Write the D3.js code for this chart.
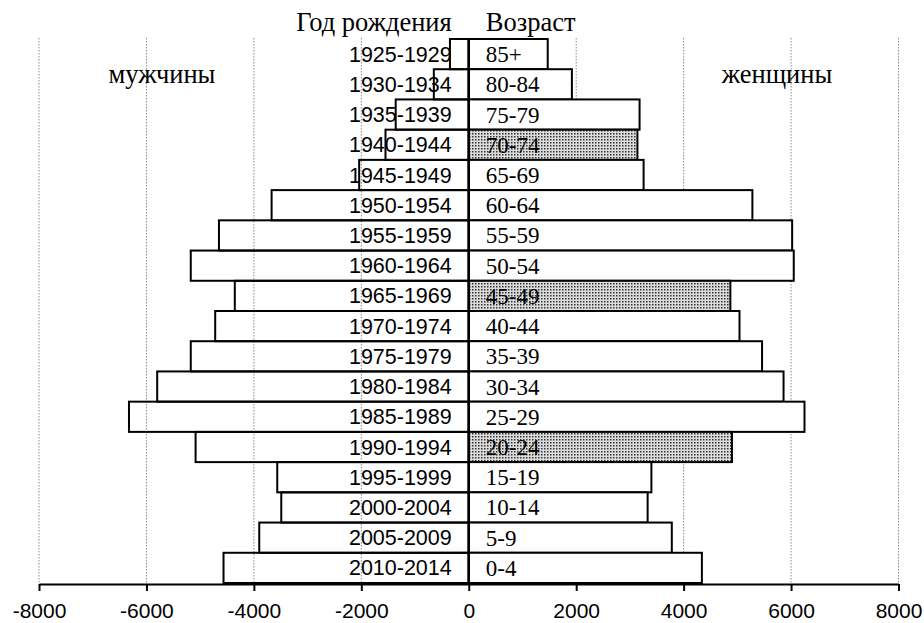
<!DOCTYPE html>
<html>
<head>
<meta charset="utf-8">
<script src="https://cdn.jsdelivr.net/npm/d3@7"></script>
<style>
  html, body { margin: 0; padding: 0; background: #fff; }
  svg { display: block; }
</style>
</head>
<body>
<svg id="chart" width="924" height="623"></svg>
<script>
// ---- data ----
const birthYears = ["1925-1929","1930-1934","1935-1939","1940-1944","1945-1949","1950-1954",
  "1955-1959","1960-1964","1965-1969","1970-1974","1975-1979","1980-1984","1985-1989",
  "1990-1994","1995-1999","2000-2004","2005-2009","2010-2014"];
const ages = ["85+","80-84","75-79","70-74","65-69","60-64","55-59","50-54","45-49",
  "40-44","35-39","30-34","25-29","20-24","15-19","10-14","5-9","0-4"];
const male = [-350,-650,-1360,-1550,-2040,-3670,-4650,-5175,-4355,-4720,-5175,-5800,
  -6325,-5085,-3565,-3490,-3900,-4565];
const female = [1470,1920,3180,3140,3255,5280,6020,6050,4870,5040,5460,5860,6250,4900,
  3400,3330,3780,4340];
const highlighted = ["70-74","45-49","20-24"];
const xTicks = [-8000,-6000,-4000,-2000,0,2000,4000,6000,8000];
const titleLeft = "Год рождения";
const titleRight = "Возраст";
const sideLeft = "мужчины";
const sideRight = "женщины";

// ---- layout ----
const svg = d3.select("#chart");
const x = d3.scaleLinear().domain([-8000, 8000]).range([39, 898.5]);
const y = d3.scaleBand().domain(ages).range([39, 583]).padding(0);
const serif = "'Liberation Serif','Times New Roman',serif";
const sans = "'Liberation Sans',Arial,sans-serif";

// pattern
const defs = svg.append("defs");
const pat = defs.append("pattern").attr("id","dots").attr("patternUnits","userSpaceOnUse")
  .attr("width",3).attr("height",3);
pat.append("rect").attr("width",3).attr("height",3).attr("fill","#dcdcdc");
pat.append("rect").attr("x",1).attr("y",1).attr("width",1.5).attr("height",1.5).attr("fill","#333");

// gridlines
svg.append("g").selectAll("line").data(xTicks.filter(d => d !== 0)).join("line")
  .attr("x1", d => x(d)).attr("x2", d => x(d))
  .attr("y1", 38).attr("y2", 584)
  .attr("stroke", "#8c8c8c").attr("stroke-width", 1).attr("stroke-dasharray", "1.5,1.5");

// male bars (no fill)
svg.append("g").selectAll("rect").data(male).join("rect")
  .attr("x", d => x(d)).attr("y", (d,i) => y(ages[i]))
  .attr("width", d => x(0) - x(d)).attr("height", y.bandwidth())
  .attr("fill", "none").attr("stroke", "#000").attr("stroke-width", 2);

// female bars
svg.append("g").selectAll("rect").data(female).join("rect")
  .attr("x", x(0)).attr("y", (d,i) => y(ages[i]))
  .attr("width", d => x(d) - x(0)).attr("height", y.bandwidth())
  .attr("fill", (d,i) => highlighted.includes(ages[i]) ? "url(#dots)" : "#fff")
  .attr("stroke", "#000").attr("stroke-width", 2);

// zero line
svg.append("line").attr("x1", x(0)).attr("x2", x(0)).attr("y1", 38).attr("y2", 584)
  .attr("stroke", "#000").attr("stroke-width", 2.5);

// row labels
svg.append("g").selectAll("text").data(birthYears).join("text")
  .attr("x", x(0) - 17).attr("y", (d,i) => y(ages[i]) + y.bandwidth()/2 + 7.5)
  .attr("text-anchor", "end").attr("font-family", sans).attr("font-size", 21.5)
  .attr("fill", "#000").text(d => d);
svg.append("g").selectAll("text").data(ages).join("text")
  .attr("x", x(0) + 17).attr("y", d => y(d) + y.bandwidth()/2 + 8)
  .attr("text-anchor", "start").attr("font-family", serif).attr("font-size", 23)
  .attr("fill", "#000").text(d => d);

// titles
svg.append("text").attr("x", x(0) - 17).attr("y", 31).attr("text-anchor","end")
  .attr("font-family", serif).attr("font-size", 26.5).text(titleLeft);
svg.append("text").attr("x", x(0) + 17).attr("y", 31).attr("text-anchor","start")
  .attr("font-family", serif).attr("font-size", 26.5).text(titleRight);
svg.append("text").attr("x", 162).attr("y", 83).attr("text-anchor","middle")
  .attr("font-family", serif).attr("font-size", 26.5).text(sideLeft);
svg.append("text").attr("x", 777).attr("y", 83).attr("text-anchor","middle")
  .attr("font-family", serif).attr("font-size", 26.5).text(sideRight);

// axis
const axis = svg.append("g").attr("transform", "translate(0,584)")
  .call(d3.axisBottom(x).tickValues(xTicks).tickFormat(d3.format("d")).tickSize(7).tickSizeOuter(0).tickPadding(12));
axis.select(".domain").attr("stroke", "#000").attr("stroke-width", 2);
axis.selectAll(".tick line").attr("stroke", "#000").attr("stroke-width", 2);
axis.selectAll(".tick text").attr("font-family", sans).attr("font-size", 21).attr("fill", "#000")
  .text(d => d < 0 ? "-" + Math.abs(d) : d);
</script>
</body>
</html>
